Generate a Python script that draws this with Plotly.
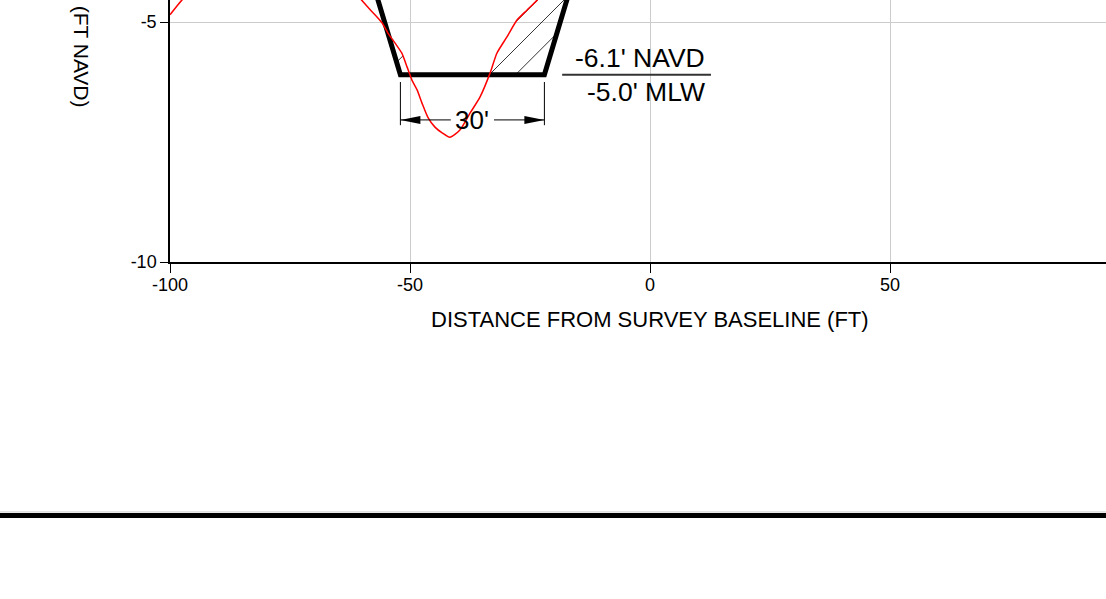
import numpy as np
import plotly.graph_objects as go

# existing survey (red), distance in ft vs elevation in ft NAVD
survey_x = [-100, -97.5, -95, -90, -85, -80, -75, -70, -65, -62, -60.1, -58.8, -57.3,
            -55.8, -54.6, -53.1, -51.7, -50.6, -49.6, -48.5, -47.5, -46.3, -44.8, -43.3,
            -41.7, -39.6, -37.5, -35.4, -33.3, -31.9, -29.8, -27.7, -25.6, -23.5, -21,
            -17, -12, -6]
survey_y = [-4.85, -4.54, -4.3, -4.0, -3.8, -3.7, -3.7, -3.8, -4.1, -4.35, -4.54, -4.69,
            -4.85, -5.02, -5.23, -5.44, -5.65, -5.94, -6.21, -6.42, -6.69, -6.98, -7.19,
            -7.31, -7.40, -7.25, -6.90, -6.56, -6.06, -5.65, -5.31, -4.96, -4.75, -4.54,
            -4.2, -3.7, -3.3, -3.0]

# channel template: 30 ft bottom at -6.1 ft NAVD, 3:1 side slopes
template_x = [-64.3, -52, -22, -9.7]
template_y = [-2.0, -6.1, -6.1, -2.0]

x_ticks = [-100, -50, 0, 50]
y_ticks = [-10, -5]

FONT = "Arial, Liberation Sans, sans-serif"
X_RANGE = [-100, 95]
Y_RANGE = [-10, -4.5417]
MARGIN = dict(l=170, r=0, t=0, b=337)
W, H = 1106, 599

bottom_left, bottom_right = template_x[1], template_x[2]
bottom_elev = template_y[1]
dim_y = -7.04

fig = go.Figure()

# 45-degree hatch where existing ground sits above the template
px_per_x = (W - MARGIN["l"] - MARGIN["r"]) / (X_RANGE[1] - X_RANGE[0])
px_per_y = (H - MARGIN["t"] - MARGIN["b"]) / (Y_RANGE[1] - Y_RANGE[0])
xs = np.linspace(template_x[0], template_x[-1], 3000)
tmpl = np.interp(xs, template_x, template_y)
upper = np.maximum(np.interp(xs, survey_x, survey_y), tmpl)
hx, hy = [], []
for c in 564 + 26.3 * np.arange(-8, 6):
    # screen x + screen y = c
    line_y = Y_RANGE[1] - (c - MARGIN["l"] - (xs - X_RANGE[0]) * px_per_x) / px_per_y
    inside = (line_y >= tmpl) & (line_y <= upper)
    idx = np.flatnonzero(inside)
    if idx.size == 0:
        continue
    runs = np.split(idx, np.flatnonzero(np.diff(idx) > 1) + 1)
    for run in runs:
        hx += [xs[run[0]], xs[run[-1]], None]
        hy += [line_y[run[0]], line_y[run[-1]], None]
fig.add_trace(go.Scatter(x=hx, y=hy, mode="lines", line=dict(color="black", width=0.8),
                         hoverinfo="skip", showlegend=False))

fig.add_trace(go.Scatter(x=template_x, y=template_y, mode="lines",
                         line=dict(color="black", width=5), showlegend=False))
fig.add_trace(go.Scatter(x=survey_x, y=survey_y, mode="lines",
                         line=dict(color="#ff0000", width=1.5, shape="spline", smoothing=0.6),
                         showlegend=False))

shapes = []
# dimension: extension lines, dimension line split around the text, arrowheads
for xv in (bottom_left, bottom_right):
    shapes.append(dict(type="line", x0=xv, x1=xv, y0=-6.25, y1=-7.15,
                       line=dict(color="black", width=1)))
mid = (bottom_left + bottom_right) / 2
shapes.append(dict(type="line", x0=bottom_left, x1=mid - 4.5, y0=dim_y, y1=dim_y,
                   line=dict(color="black", width=1)))
shapes.append(dict(type="line", x0=mid + 4.5, x1=bottom_right, y0=dim_y, y1=dim_y,
                   line=dict(color="black", width=1)))
shapes.append(dict(type="path", xsizemode="pixel", ysizemode="pixel",
                   xanchor=bottom_left, yanchor=dim_y, path="M0,0 L20,4 L20,-4 Z",
                   fillcolor="black", line=dict(width=0)))
shapes.append(dict(type="path", xsizemode="pixel", ysizemode="pixel",
                   xanchor=bottom_right, yanchor=dim_y, path="M0,0 L-20,4 L-20,-4 Z",
                   fillcolor="black", line=dict(width=0)))
# elevation label rule
shapes.append(dict(type="line", x0=-18.3, x1=12.7, y0=bottom_elev, y1=bottom_elev,
                   line=dict(color="#333333", width=2)))
# sheet border line below the plot
shapes.append(dict(type="line", xref="paper", yref="paper", x0=-0.3, x1=1.1,
                   y0=-0.954, y1=-0.954, line=dict(color="#cccccc", width=1)))
shapes.append(dict(type="line", xref="paper", yref="paper", x0=-0.3, x1=1.1,
                   y0=-0.9676, y1=-0.9676, line=dict(color="black", width=5)))

annotations = [
    dict(x=mid, y=dim_y, text="30'", showarrow=False, font=dict(size=26),
         xanchor="center", yanchor="middle"),
    dict(x=11.9, y=bottom_elev, text="-6.1' NAVD", showarrow=False, font=dict(size=26.5),
         xanchor="right", yanchor="bottom"),
    dict(x=11.9, y=bottom_elev, text="-5.0' MLW", showarrow=False, font=dict(size=26.5),
         xanchor="right", yanchor="top"),
    dict(x=0, y=-0.221, yref="paper", text="DISTANCE FROM SURVEY BASELINE (FT)",
         showarrow=False, font=dict(size=22), xanchor="center", yanchor="middle"),
    dict(x=-0.094, y=1.015, xref="paper", yref="paper", text="ELEVATION (FT NAVD)",
         textangle=90, showarrow=False, font=dict(size=21),
         xanchor="center", yanchor="middle"),
]

fig.update_layout(
    template="none",
    width=W,
    height=H,
    margin=MARGIN,
    paper_bgcolor="white",
    plot_bgcolor="white",
    font=dict(family=FONT, color="black", size=18),
    shapes=shapes,
    annotations=annotations,
    showlegend=False,
)
fig.update_xaxes(range=X_RANGE, tickvals=x_ticks, ticktext=[str(v) for v in x_ticks],
                 ticks="outside", ticklen=9, ticklabelstandoff=-3,
                 tickcolor="black", showline=True, linecolor="black", linewidth=1.5,
                 showgrid=True, gridcolor="#cccccc", gridwidth=1, zeroline=False,
                 automargin=False, tickfont=dict(size=18))
fig.update_yaxes(range=Y_RANGE, tickvals=y_ticks, ticktext=[str(v) for v in y_ticks],
                 ticks="outside", ticklen=8,
                 tickcolor="black", showline=True, linecolor="black", linewidth=1.5,
                 showgrid=True, gridcolor="#cccccc", gridwidth=1, zeroline=False,
                 automargin=False, tickfont=dict(size=18))

# page without the default body margin so the sheet fills the window
fig.write_html("out.html", config={"displayModeBar": False},
               post_script="document.body.style.margin='0px';")
